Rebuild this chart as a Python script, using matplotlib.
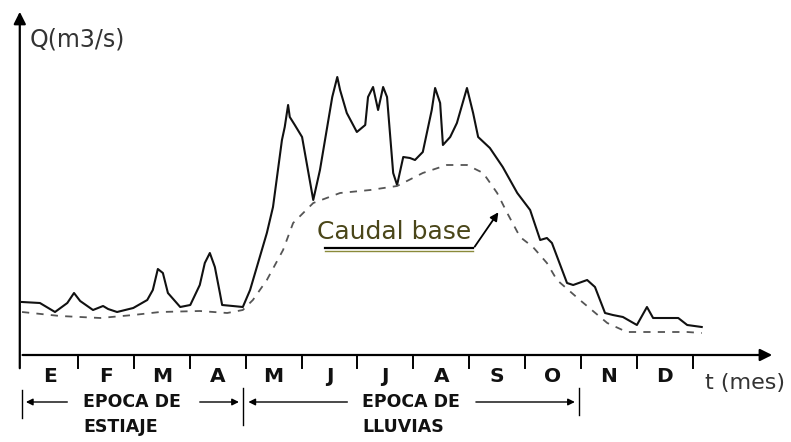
# Hidrograma anual: caudal total y caudal base
import matplotlib
matplotlib.use('Agg')
import matplotlib.pyplot as plt

# meses del año (iniciales)
meses = ['E', 'F', 'M', 'A', 'M', 'J', 'J', 'A', 'S', 'O', 'N', 'D']

# caudal total: tiempo en meses desde el 1 de enero, Q en m3/s
t_caudal = [0.00, 0.32, 0.59, 0.81, 0.93, 1.04, 1.27, 1.45, 1.54, 1.70, 1.99, 2.24, 2.34,
            2.43, 2.52, 2.61, 2.83, 3.01, 3.18, 3.27, 3.36, 3.45, 3.54, 3.58, 3.77, 3.95,
            4.08, 4.38, 4.49, 4.65, 4.70, 4.76, 4.79, 4.88, 5.01, 5.21, 5.33, 5.55, 5.64,
            5.69, 5.81, 5.99, 6.14, 6.19, 6.28, 6.37, 6.46, 6.53, 6.64, 6.71, 6.82, 6.94,
            7.03, 7.17, 7.33, 7.39, 7.48, 7.53, 7.66, 7.78, 7.96, 8.07, 8.16, 8.37, 8.60,
            8.86, 9.09, 9.27, 9.39, 9.48, 9.75, 9.86, 10.11, 10.25, 10.43, 10.57, 10.75,
            11.00, 11.18, 11.29, 11.54, 11.74, 11.90, 12.16]
q_caudal = [5.3, 5.2, 4.3, 5.2, 6.2, 5.4, 4.5, 4.9, 4.6, 4.3, 4.7, 5.5, 6.5,
            8.6, 8.2, 6.2, 4.8, 5.0, 7.0, 9.2, 10.2, 8.8, 6.2, 5.0, 4.9, 4.8,
            6.5, 12.2, 14.8, 21.5, 22.8, 25.0, 23.8, 23.0, 21.8, 15.5, 18.5, 25.8, 27.8,
            26.5, 24.2, 22.3, 23.0, 25.8, 26.8, 24.5, 26.8, 25.8, 18.2, 17.0, 19.8, 19.7,
            19.5, 20.3, 24.5, 26.7, 25.2, 21.0, 21.8, 23.2, 26.7, 24.2, 21.8, 20.7, 18.8,
            16.2, 14.5, 11.5, 11.7, 11.2, 7.2, 7.0, 7.5, 6.8, 4.2, 4.0, 3.8,
            3.0, 4.8, 3.7, 3.7, 3.7, 3.0, 2.8]

# caudal base
t_base = [0.00, 0.68, 1.40, 1.99, 2.47, 3.18, 3.67, 3.95, 4.13, 4.38, 4.67, 4.85, 5.21,
          5.69, 6.23, 6.71, 7.17, 7.60, 7.96, 8.25, 8.50, 8.68, 8.91, 9.14, 9.39, 9.57,
          9.98, 10.47, 10.82, 11.29, 11.90, 12.16]
q_base = [4.3, 3.9, 3.7, 4.0, 4.3, 4.4, 4.2, 4.5, 5.5, 7.5, 10.5, 13.2, 15.2,
          16.2, 16.5, 16.9, 18.2, 19.0, 19.0, 18.2, 16.2, 14.2, 11.8, 10.8, 9.2, 7.5,
          5.5, 3.2, 2.3, 2.3, 2.3, 2.2]

fig = plt.figure(figsize=(7.91, 4.42), dpi=100)
ax = fig.add_axes([0, 0, 1, 1])
ax.set_xlim(-0.394, 13.757)
ax.set_ylim(-8.7, 35.5)
ax.axis('off')

ax.plot(t_caudal, q_caudal, color='#111111', lw=1.5, solid_joinstyle='round')
ax.plot(t_base, q_base, color='#555555', lw=1.3, ls=(0, (4, 4)))

# ejes con flecha
ax.annotate('', xy=(13.47, 0), xytext=(-0.04, 0),
            arrowprops=dict(arrowstyle='-|>', color='black', lw=1.6, mutation_scale=18))
ax.annotate('', xy=(-0.04, 34.6), xytext=(-0.04, -1.6),
            arrowprops=dict(arrowstyle='-|>', color='black', lw=1.6, mutation_scale=18))

# marcas y etiquetas de los meses
for k in range(1, 13):
    ax.plot([k, k], [0, -1.3], color='black', lw=1.4)
for k, m in enumerate(meses):
    ax.text(k + 0.5, -2.2, m, ha='center', va='center', fontsize=14.5,
            fontweight='bold', color='#111111')

ax.text(0.14, 31.5, 'Q(m3/s)', ha='left', va='center', fontsize=17,
        color='#333333')
ax.text(12.22, -2.8, 't (mes)', ha='left', va='center', fontsize=16,
        color='#333333')

# épocas
arr = dict(arrowstyle='-|>', color='black', lw=1.0, mutation_scale=10)
ax.annotate('', xy=(0.02, -4.7), xytext=(0.86, -4.7), arrowprops=arr)
ax.annotate('', xy=(3.93, -4.7), xytext=(3.13, -4.7), arrowprops=arr)
ax.annotate('', xy=(4.0, -4.7), xytext=(5.87, -4.7), arrowprops=arr)
ax.annotate('', xy=(9.94, -4.7), xytext=(8.07, -4.7), arrowprops=arr)
ax.plot([0, 0], [-3.5, -6.3], color='black', lw=1.0)
ax.plot([3.95, 3.95], [-3.3, -7.0], color='black', lw=1.0)
ax.plot([9.96, 9.96], [-3.3, -6.0], color='black', lw=1.0)

for x, y, s in [(1.09, -4.7, 'EPOCA DE'), (1.09, -7.2, 'ESTIAJE'),
                (6.08, -4.7, 'EPOCA DE'), (6.08, -7.2, 'LLUVIAS')]:
    ax.text(x, y, s, ha='left', va='center', fontsize=12.5,
            fontweight='bold', color='#111111')

# etiqueta caudal base
ax.text(5.28, 12.3, 'Caudal base', ha='left', va='center', fontsize=18,
        color='#4a4619')
ax.plot([5.42, 8.07], [10.7, 10.7], color='black', lw=1.6)
ax.plot([5.42, 8.07], [10.4, 10.4], color='#8a8a3a', lw=1.0)
ax.annotate('', xy=(8.55, 14.5), xytext=(8.07, 10.6),
            arrowprops=dict(arrowstyle='-|>', color='black', lw=1.3, mutation_scale=12))

fig.savefig('out.png', dpi=100)
